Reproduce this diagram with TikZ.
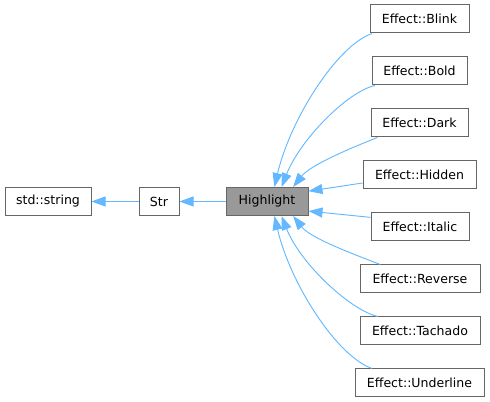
\documentclass[tikz,border=0pt]{standalone}
\usepackage{fontspec}
\setmainfont{DejaVu Sans}
\usetikzlibrary{arrows.meta}
\definecolor{edgeblue}{HTML}{63B8FF}
\definecolor{boxline}{HTML}{666666}
\definecolor{hlfill}{HTML}{999999}
\tikzset{
  cls/.style={draw=boxline, line width=0.75pt, fill=white, inner sep=0pt,
    minimum height=28*0.75pt, font=\fontsize{9.4}{11}\selectfont, text=black},
  hlcls/.style={cls, fill=hlfill},
  edge/.style={draw=edgeblue, line width=0.7pt,
    -{Triangle[length=10.5pt, width=7.5pt, fill=edgeblue]}}
}
\begin{document}
\begin{tikzpicture}[x=0.75pt, y=-0.75pt]
\useasboundingbox (0,0) rectangle (490,402);
% left chain
\node[cls, minimum width=86*0.75pt] (std) at (48,201.5) {std::string};
\node[cls, minimum width=40*0.75pt] (str) at (159,201.5) {Str};
\node[hlcls, minimum width=82*0.75pt] (hl) at (267,201.5) {Highlight};
% right column
\node[cls, minimum width=99*0.75pt]  (blink) at (419.5,19)  {Effect::Blink};
\node[cls, minimum width=95*0.75pt]  (bold)  at (419.5,71)  {Effect::Bold};
\node[cls, minimum width=97*0.75pt]  (dark)  at (419.5,123) {Effect::Dark};
\node[cls, minimum width=113*0.75pt] (hidden) at (419.5,175) {Effect::Hidden};
\node[cls, minimum width=98*0.75pt]  (italic) at (420,227) {Effect::Italic};
\node[cls, minimum width=120*0.75pt] (reverse) at (420,279) {Effect::Reverse};
\node[cls, minimum width=120*0.75pt] (tachado) at (420,331) {Effect::Tachado};
\node[cls, minimum width=129*0.75pt] (underline) at (419.5,383) {Effect::Underline};
% edges
\draw[edge] (str) -- (std);
\draw[edge] (hl) -- (str);
\draw[edge] (blink.197) .. controls +(-35,12) and +(16,-68) .. (hl.63);
\draw[edge] (bold.198) .. controls +(-27,6) and +(19,-48) .. (hl.45);
\draw[edge] (dark.199.5) .. controls +(-20,8) and +(18,-23) .. (hl.29);
\draw[edge] (hidden.188) -- (hl.14.4);
\draw[edge] (italic.169.6) -- (hl.-13);
\draw[edge] (reverse.160.7) .. controls +(-20,-8) and +(18,23) .. (hl.-29);
\draw[edge] (tachado.161.6) .. controls +(-27,-6) and +(19,48) .. (hl.-45);
\draw[edge] (underline.163.2) .. controls +(-35,-12) and +(16,68) .. (hl.-63);
\end{tikzpicture}
\end{document}
